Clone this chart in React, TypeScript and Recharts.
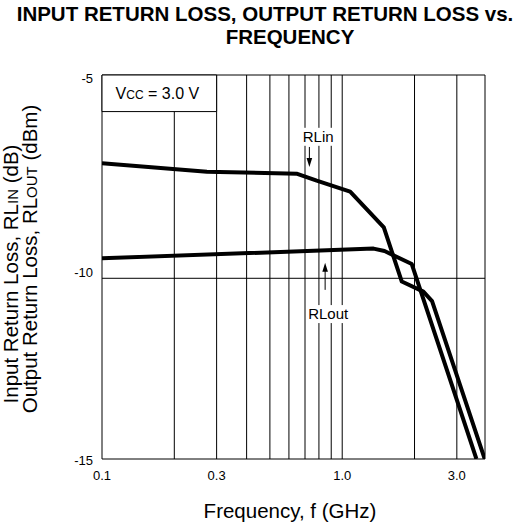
import React from 'react';
import {
  LineChart,
  Line,
  XAxis,
  YAxis,
  CartesianGrid,
  ReferenceArea,
  ReferenceLine,
  ReferenceDot,
} from 'recharts';

const FONT = '"Liberation Sans", Arial, Helvetica, sans-serif';

// ---- data ----
const rlinFreq = [0.1, 0.2735, 0.65, 0.783, 1.079, 1.49, 1.77, 2.177, 2.366, 3.92];
const rlinDb = [-7.17, -7.38, -7.43, -7.6, -7.87, -8.75, -10.09, -10.37, -10.63, -15.0];

const rloutFreq = [0.1, 1.35, 1.5, 1.948, 3.62];
const rloutDb = [-9.51, -9.27, -9.33, -9.65, -15.0];

const xMin = 0.1;
const xMax = 3.93;
const xTicks = [0.1, 0.2, 0.3, 0.4, 0.5, 0.6, 0.7, 0.8, 0.9, 1, 2, 3, 3.93];
const xTickLabels: Record<string, string> = { '0.1': '0.1', '0.3': '0.3', '1': '1.0', '3': '3.0' };
const yTicks = [-15, -10, -5];
const yMin = -15;
const yMax = -5;

const rlinData = rlinFreq.map((f, i) => ({ f, v: rlinDb[i] }));
const rloutData = rloutFreq.map((f, i) => ({ f, v: rloutDb[i] }));

// piecewise-linear y scale (the reference's -10 line is not midway)
const Y_KNOT = 0.4706;
function pieceScale(): any {
  let dom: number[] = [yMin, yMax];
  let rng: number[] = [0, 1];
  const s: any = (v: number) => {
    const d0 = dom[0];
    const d1 = dom[dom.length - 1];
    const mid = (d0 + d1) / 2;
    const r0 = rng[0];
    const r1 = rng[rng.length - 1];
    const rm = r0 + (r1 - r0) * Y_KNOT;
    if (v <= mid) return r0 + ((v - d0) / (mid - d0)) * (rm - r0);
    return rm + ((v - mid) / (d1 - mid)) * (r1 - rm);
  };
  s.domain = (d?: any) => {
    if (d === undefined) return dom.slice();
    dom = Array.from(d).map(Number);
    return s;
  };
  s.range = (r?: any) => {
    if (r === undefined) return rng.slice();
    rng = Array.from(r).map(Number);
    return s;
  };
  s.copy = () => {
    const c = pieceScale();
    c.domain(dom);
    c.range(rng);
    return c;
  };
  s.ticks = () => yTicks.slice();
  s.tickFormat = () => (v: any) => String(v);
  s.nice = () => s;
  s.clamp = () => s;
  s.unknown = () => s;
  s.invert = (p: number) => {
    const d0 = dom[0];
    const d1 = dom[dom.length - 1];
    const mid = (d0 + d1) / 2;
    const r0 = rng[0];
    const r1 = rng[rng.length - 1];
    const rm = r0 + (r1 - r0) * Y_KNOT;
    const t0 = (p - r0) / (rm - r0);
    if (t0 <= 1) return d0 + t0 * (mid - d0);
    return mid + ((p - rm) / (r1 - rm)) * (d1 - mid);
  };
  return s;
}

const yTickDy: Record<string, number> = { '-5': 3, '-10': -6, '-15': 1 };

const YTick = (props: any) => {
  const { x, y, payload } = props;
  const dy = yTickDy[String(payload.value)] ?? 0;
  return (
    <text x={x} y={y + dy} dy="0.35em" textAnchor="end" fontSize={13} fill="#000" fontFamily={FONT}>
      {payload.value}
    </text>
  );
};

const XTick = (props: any) => {
  const { x, y, payload } = props;
  const label = xTickLabels[String(payload.value)];
  if (!label) return null;
  return (
    <text x={x} y={y} dy="0.35em" textAnchor="middle" fontSize={13} fill="#000" fontFamily={FONT}>
      {label}
    </text>
  );
};

const VccText = (p: any) => (
  <text x={p.cx} y={p.cy} dy="0.36em" textAnchor="middle" fontSize={16} fill="#000" fontFamily={FONT}>
    V<tspan fontSize={12}>CC</tspan> = 3.0 V
  </text>
);

const BoxedText = (txt: string) => (p: any) => (
  <g>
    <rect x={p.cx - 21} y={p.cy - 9} width={42} height={18} fill="#fff" />
    <text x={p.cx} y={p.cy} dy="0.36em" textAnchor="middle" fontSize={15} fill="#000" fontFamily={FONT}>
      {txt}
    </text>
  </g>
);

const HeadDown = (p: any) => (
  <polygon points={`${p.cx},${p.cy} ${p.cx - 2.8},${p.cy - 9} ${p.cx + 2.8},${p.cy - 9}`} fill="#000" />
);
const HeadUp = (p: any) => (
  <polygon points={`${p.cx},${p.cy} ${p.cx - 2.8},${p.cy + 9} ${p.cx + 2.8},${p.cy + 9}`} fill="#000" />
);

export default function App() {
  return (
    <div style={{ position: 'absolute', left: 0, top: 0, width: 527, height: 523, background: '#fff' }}>
      <LineChart
        width={527}
        height={523}
        margin={{ top: 75, right: 42, bottom: 44, left: 72 }}
      >
        <CartesianGrid stroke="#000" strokeWidth={1} />
        <XAxis
          type="number"
          dataKey="f"
          scale="log"
          domain={[xMin, xMax]}
          ticks={xTicks}
          allowDataOverflow
          interval={0}
          height={20}
          axisLine={false}
          tickLine={false}
          tickSize={0}
          tickMargin={16}
          tick={<XTick />}
        />
        <YAxis
          type="number"
          dataKey="v"
          scale={pieceScale()}
          domain={[yMin, yMax]}
          ticks={yTicks}
          allowDataOverflow
          interval={0}
          width={30}
          axisLine={false}
          tickLine={false}
          tickSize={0}
          tickMargin={9}
          tick={<YTick />}
        />
        <ReferenceArea x1={0.1} x2={0.3} y1={-5.9} y2={-5} fill="#fff" fillOpacity={1} stroke="#000" strokeWidth={1} />
        <ReferenceDot x={0.17} y={-5.44} r={1} shape={VccText} />

        <ReferenceLine segment={[{ x: 0.73, y: -6.77 }, { x: 0.73, y: -7.1 }]} stroke="#000" strokeWidth={1} />
        <ReferenceDot x={0.73} y={-7.26} r={1} shape={HeadDown} />
        <ReferenceDot x={0.794} y={-6.52} r={1} shape={BoxedText('RLin')} />

        <ReferenceLine segment={[{ x: 0.849, y: -9.8 }, { x: 0.849, y: -10.32 }]} stroke="#000" strokeWidth={1} />
        <ReferenceDot x={0.849} y={-9.62} r={1} shape={HeadUp} />
        <ReferenceDot x={0.874} y={-10.99} r={1} shape={BoxedText('RLout')} />

        <Line
          data={rlinData}
          dataKey="v"
          type="linear"
          stroke="#000"
          strokeWidth={4}
          strokeLinejoin="round"
          dot={false}
          isAnimationActive={false}
        />
        <Line
          data={rloutData}
          dataKey="v"
          type="linear"
          stroke="#000"
          strokeWidth={4}
          strokeLinejoin="round"
          dot={false}
          isAnimationActive={false}
        />
      </LineChart>
      <svg
        width={527}
        height={523}
        style={{ position: 'absolute', left: 0, top: 0, pointerEvents: 'none' }}
      >
        <text x={265} y={21} textAnchor="middle" fontSize={20.5} fontWeight="bold" fontFamily={FONT} fill="#000">
          INPUT RETURN LOSS, OUTPUT RETURN LOSS vs.
        </text>
        <text x={290} y={44} textAnchor="middle" fontSize={20.5} fontWeight="bold" fontFamily={FONT} fill="#000">
          FREQUENCY
        </text>
        <text transform="translate(18,274) rotate(-90)" textAnchor="middle" fontSize={20.5} fontFamily={FONT} fill="#000">
          Input Return Loss, RL<tspan fontSize={15}>IN</tspan> (dB)
        </text>
        <text transform="translate(37,259) rotate(-90)" textAnchor="middle" fontSize={20.5} fontFamily={FONT} fill="#000">
          Output Return Loss, RL<tspan fontSize={15}>OUT</tspan> (dBm)
        </text>
        <text x={290} y={518} textAnchor="middle" fontSize={20.5} fontFamily={FONT} fill="#000">
          Frequency, f (GHz)
        </text>
      </svg>
    </div>
  );
}
